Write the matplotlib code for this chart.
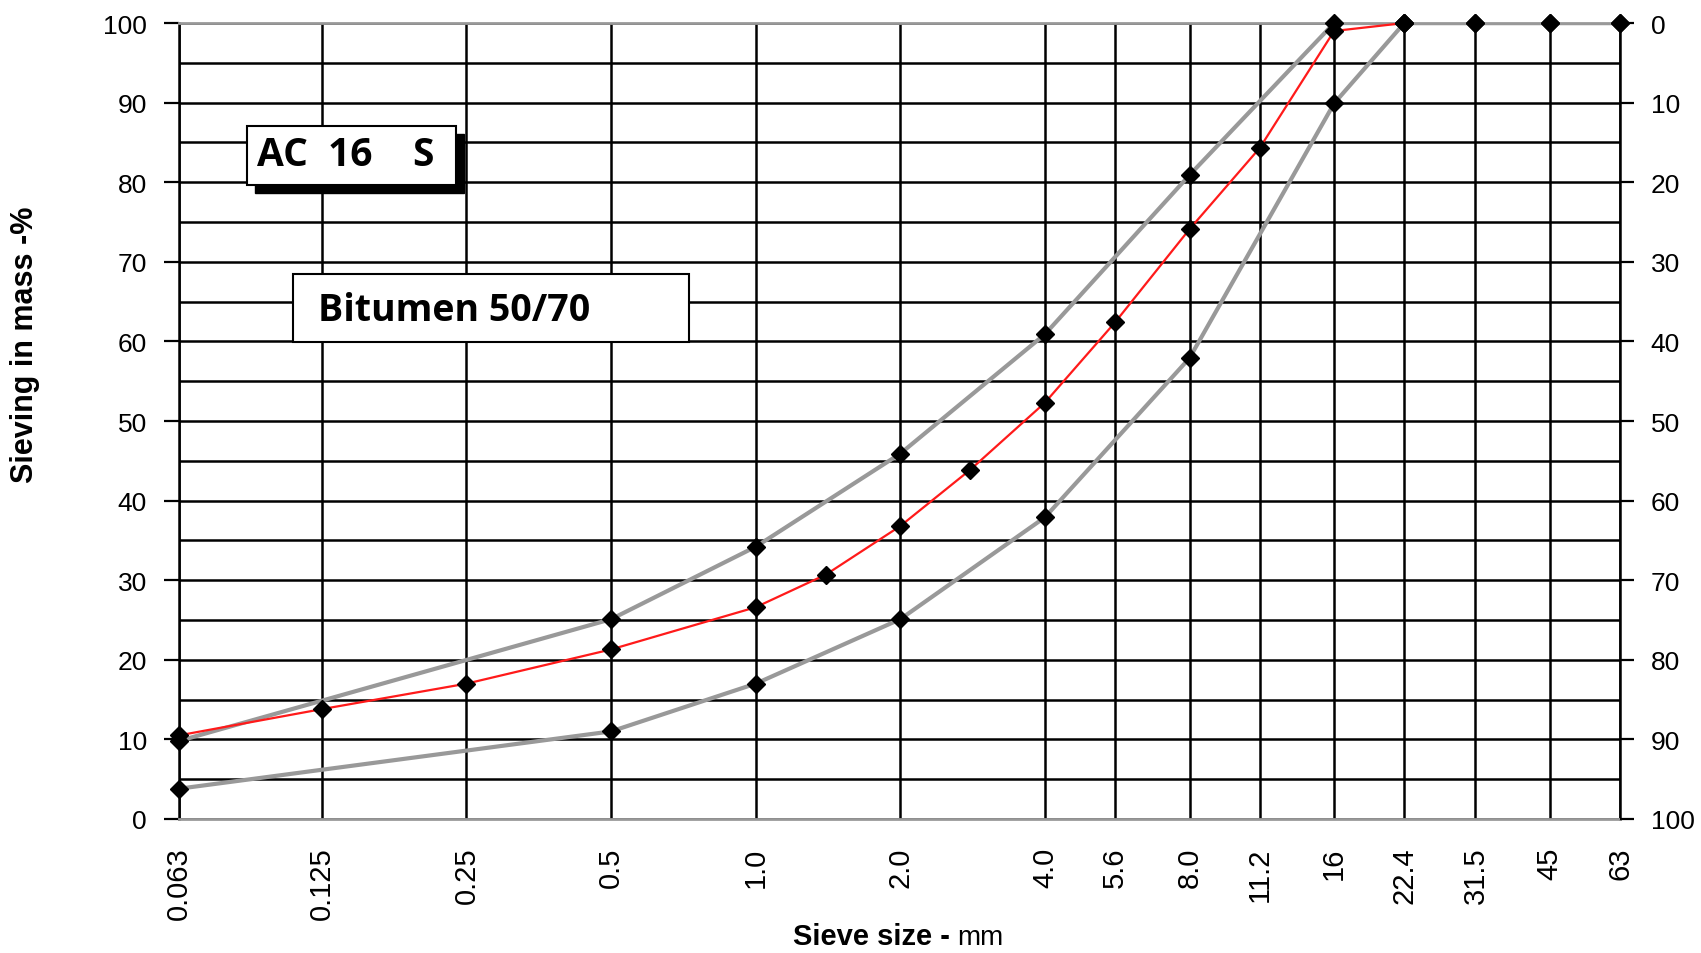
import matplotlib.pyplot as plt
from matplotlib.patches import Rectangle
from matplotlib.ticker import NullLocator, FixedLocator

# sieve sizes (mm) and their labels
sieves = [0.063, 0.125, 0.25, 0.5, 1.0, 2.0, 4.0, 5.6, 8.0, 11.2, 16, 22.4, 31.5, 45, 63]
sieve_labels = ["0.063", "0.125", "0.25", "0.5", "1.0", "2.0", "4.0", "5.6", "8.0",
                "11.2", "16", "22.4", "31.5", "45", "63"]

# upper grading limit
upper_x = [0.063, 0.5, 1.0, 2.0, 4.0, 8.0, 16, 22.4, 31.5, 45, 63]
upper_y = [9.8, 25.1, 34.2, 45.9, 60.9, 80.9, 100, 100, 100, 100, 100]

# lower grading limit
lower_x = [0.063, 0.5, 1.0, 2.0, 4.0, 8.0, 16, 22.4, 31.5, 45, 63]
lower_y = [3.8, 11.0, 17.0, 25.1, 37.9, 57.9, 89.9, 100, 100, 100, 100]

# mix grading curve
mix_x = [0.063, 0.125, 0.25, 0.5, 1.0, 1.4, 2.0, 2.8, 4.0, 5.6, 8.0, 11.2, 16, 22.4]
mix_y = [10.5, 13.8, 17.0, 21.3, 26.6, 30.7, 36.8, 43.9, 52.3, 62.4, 74.1, 84.3, 99.0, 100]

pass_ticks = list(range(0, 101, 10))
retained_ticks = list(range(0, 101, 10))

tick_font = "Liberation Sans"

fig = plt.figure(figsize=(17.01, 9.54), dpi=100)
ax = fig.add_axes([0.1052, 0.1405, 0.8472, 0.8343])

ax.set_xscale("log", base=2)
ax.set_xlim(sieves[0], sieves[-1])
ax.set_ylim(0, 100)

# grid
ax.xaxis.set_major_locator(FixedLocator(sieves))
ax.xaxis.set_minor_locator(NullLocator())
ax.set_xticks(sieves)
ax.set_xticklabels(sieve_labels, rotation=90, va="top", ha="center",
                   fontsize=21, family=tick_font)
ax.tick_params(axis="x", length=0, pad=20)
ax.set_yticks(pass_ticks)
ax.set_yticks(range(5, 100, 10), minor=True)
ax.set_yticklabels([str(v) for v in pass_ticks], fontsize=19, family=tick_font)
ax.tick_params(axis="y", which="major", length=11, width=1.6, pad=12, color="black")
ax.tick_params(axis="y", which="minor", length=0)
ax.grid(True, which="major", color="black", linewidth=1.8)
ax.grid(True, which="minor", axis="y", color="black", linewidth=1.8)

for side in ["left", "right"]:
    ax.spines[side].set_color("black")
    ax.spines[side].set_linewidth(1.8)
for side in ["top", "bottom"]:
    ax.spines[side].set_color("#999999")
    ax.spines[side].set_linewidth(2)

# curves
ax.plot(upper_x, upper_y, color="#999999", linewidth=3, zorder=3)
ax.plot(lower_x, lower_y, color="#999999", linewidth=3, zorder=3)
ax.plot(mix_x, mix_y, color="#ff1a1a", linewidth=1.6, zorder=4)
for xs, ys in [(upper_x, upper_y), (lower_x, lower_y), (mix_x, mix_y)]:
    ax.plot(xs, ys, linestyle="none", marker="D", markersize=9,
            color="black", zorder=5, clip_on=False)

# right axis (retained on sieve)
ax2 = ax.twinx()
ax2.set_ylim(100, 0)
ax2.set_yticks(retained_ticks)
ax2.set_yticklabels([str(v) for v in retained_ticks], fontsize=19, family=tick_font)
ax2.tick_params(axis="y", length=10, width=1.6, pad=12)
for s in ax2.spines.values():
    s.set_visible(False)

# axis titles
fig.text(0.0147, 0.639, "Sieving in mass -%", rotation=90, ha="center", va="center",
         fontsize=22, fontweight="bold", family=tick_font)
xl = fig.text(0.466, 1 - 951 / 954, "Sieve size - ", ha="left", va="bottom",
              fontsize=21, fontweight="bold", family=tick_font)
ax.annotate("mm", xy=(1, 0), xycoords=xl, va="bottom", ha="left",
            fontsize=20, family=tick_font)

# label boxes
W, H = 1701.0, 954.0
def box(x0, y0, x1, y1, shadow=False):
    if shadow:
        fig.patches.append(Rectangle((x0 / W + 8 / W, 1 - y1 / H - 8 / H),
                                     (x1 - x0) / W, (y1 - y0) / H,
                                     transform=fig.transFigure, facecolor="black",
                                     edgecolor="black", zorder=10))
    fig.patches.append(Rectangle((x0 / W, 1 - y1 / H), (x1 - x0) / W, (y1 - y0) / H,
                                 transform=fig.transFigure, facecolor="white",
                                 edgecolor="black", linewidth=1.5, zorder=11))

box(247, 127, 456, 186, shadow=True)
fig.text(257 / W, 1 - 156 / H, "AC  16    S", ha="left", va="center",
         fontsize=28, fontweight="bold", family="Open Sans", zorder=12)

box(293, 275, 689, 343)
fig.text(318 / W, 1 - 311 / H, "Bitumen 50/70", ha="left", va="center",
         fontsize=27, fontweight="bold", family="Open Sans", zorder=12)

fig.savefig("out.png", dpi=100)
